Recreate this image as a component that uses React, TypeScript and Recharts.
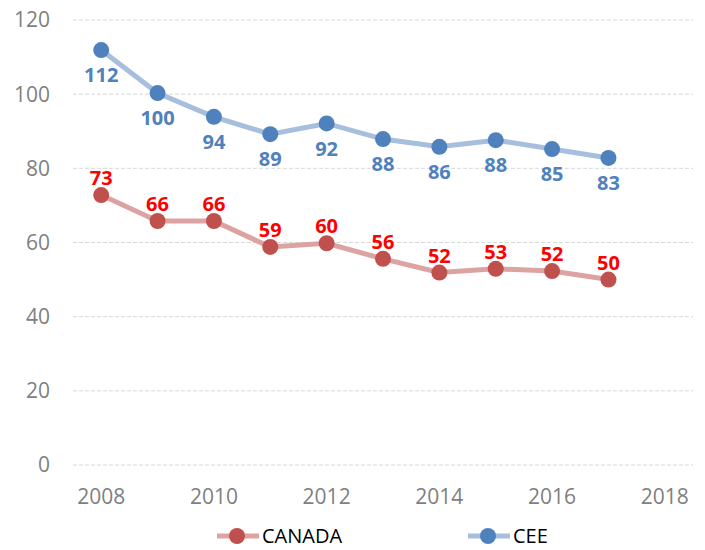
import React from "react";
import { LineChart, Line, XAxis, YAxis, CartesianGrid, LabelList } from "recharts";

const years = [2008, 2009, 2010, 2011, 2012, 2013, 2014, 2015, 2016, 2017];
const canadaValues = [72.8, 65.8, 65.8, 58.8, 59.8, 55.6, 51.9, 52.9, 52.3, 50.0];
const ceeValues = [111.9, 100.3, 93.9, 89.2, 92.1, 87.9, 85.8, 87.6, 85.2, 82.8];
const canadaLabels = ["73", "66", "66", "59", "60", "56", "52", "53", "52", "50"];
const ceeLabels = ["112", "100", "94", "89", "92", "88", "86", "88", "85", "83"];
const xTicks = [2008, 2010, 2012, 2014, 2016, 2018];
const yTicks = [0, 20, 40, 60, 80, 100, 120];
const seriesNames = ["CANADA", "CEE"];

const data = years.map((y, i) => ({
  year: y,
  canada: canadaValues[i],
  cee: ceeValues[i],
  canadaLabel: canadaLabels[i],
  ceeLabel: ceeLabels[i],
}));

const FONT = "'Open Sans', 'DejaVu Sans', sans-serif";

const CANADA_LINE = "#DDA3A2";
const CANADA_DOT = "#C0504D";
const CEE_LINE = "#A7BFDD";
const CEE_DOT = "#4F81BD";

const LegendItem = ({ left, name, line, dot }: { left: number; name: string; line: string; dot: string }) => (
  <div style={{ position: "absolute", left, top: 522, height: 28, display: "flex", alignItems: "center" }}>
    <svg width={42} height={28} style={{ display: "block" }}>
      <line x1={0} y1={14} x2={42} y2={14} stroke={line} strokeWidth={5} />
      <circle cx={20} cy={14} r={8} fill={dot} />
    </svg>
    <span style={{ fontFamily: FONT, fontSize: 20, color: "#000", marginLeft: 3, lineHeight: "28px", display: "block" }}>{name}</span>
  </div>
);

export default function App() {
  return (
    <div style={{ position: "absolute", left: 0, top: 0, width: 705, height: 550, background: "#fff" }}>
      <LineChart
        width={705}
        height={550}
        data={data}
        margin={{ top: 20, right: 12, left: 0, bottom: 55 }}
      >
        <CartesianGrid horizontal vertical={false} stroke="#D9D9D9" strokeDasharray="4 2" />
        <XAxis
          dataKey="year"
          type="number"
          domain={[2007.5, 2018.5]}
          ticks={xTicks}
          axisLine={false}
          tickLine={false}
          tickSize={0}
          tickMargin={24}
          height={30}
          tick={{ fill: "#7F7F7F", fontSize: 21, fontFamily: FONT }}
        />
        <YAxis
          type="number"
          domain={[0, 120]}
          ticks={yTicks}
          axisLine={false}
          tickLine={false}
          tickSize={0}
          tickMargin={23}
          width={73}
          tick={{ fill: "#7F7F7F", fontSize: 21, fontFamily: FONT }}
        />
        <Line
          dataKey="canada"
          name={seriesNames[0]}
          type="linear"
          stroke={CANADA_LINE}
          strokeWidth={5}
          dot={{ r: 8, fill: CANADA_DOT, stroke: CANADA_DOT, strokeWidth: 0 }}
          activeDot={false}
          isAnimationActive={false}
        >
          <LabelList
            dataKey="canadaLabel"
            position="top"
            offset={10}
            fill="#FF0000"
            style={{ fontFamily: FONT, fontSize: 20, fontWeight: 700 }}
          />
        </Line>
        <Line
          dataKey="cee"
          name={seriesNames[1]}
          type="linear"
          stroke={CEE_LINE}
          strokeWidth={5}
          dot={{ r: 8, fill: CEE_DOT, stroke: CEE_DOT, strokeWidth: 0 }}
          activeDot={false}
          isAnimationActive={false}
        >
          <LabelList
            dataKey="ceeLabel"
            position="bottom"
            offset={18}
            fill={CEE_DOT}
            style={{ fontFamily: FONT, fontSize: 20, fontWeight: 700 }}
          />
        </Line>
      </LineChart>
      <LegendItem left={217} name={seriesNames[0]} line={CANADA_LINE} dot={CANADA_DOT} />
      <LegendItem left={468} name={seriesNames[1]} line={CEE_LINE} dot={CEE_DOT} />
    </div>
  );
}
